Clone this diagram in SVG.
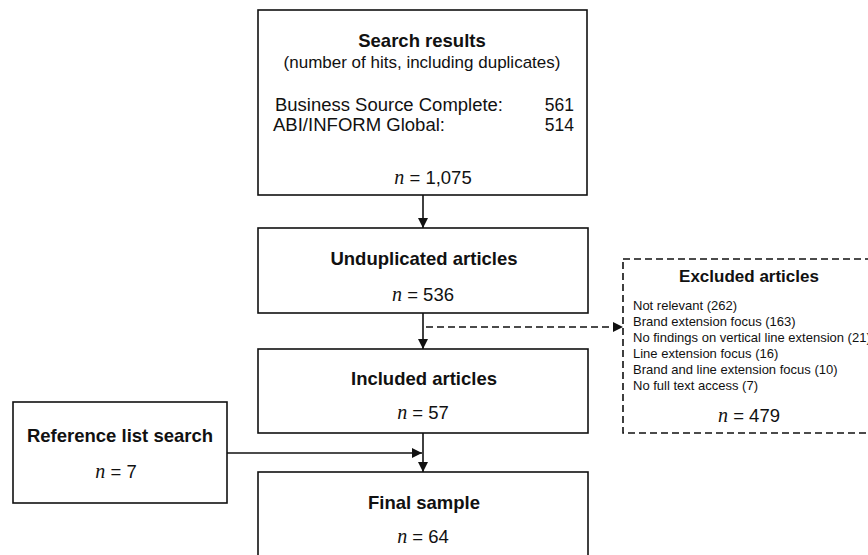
<svg xmlns="http://www.w3.org/2000/svg" width="868" height="555" viewBox="0 0 868 555">
<defs>
<style>
.box{fill:#fff;stroke:#111;stroke-width:1.6}
.dbox{fill:#fff;stroke:#111;stroke-width:1.6;stroke-dasharray:7 4}
.t{font-family:"Liberation Sans",Arial,sans-serif;fill:#111}
.h{font-size:18.5px;font-weight:bold}
.r{font-size:18.5px}
.rs{font-size:17.5px}
.s{font-size:17px}
.hx{font-size:17px;font-weight:bold}
.i{font-size:13px}
.n{font-family:"Liberation Serif","Times New Roman",serif;font-style:italic;font-size:20px}
.ln{fill:none;stroke:#111;stroke-width:1.6}
.dl{fill:none;stroke:#111;stroke-width:1.6;stroke-dasharray:7 4}
</style>
<marker id="ah" viewBox="0 0 10 10" refX="10" refY="5" markerWidth="10" markerHeight="10" markerUnits="userSpaceOnUse" orient="auto">
<path d="M0,0 L10,5 L0,10 Z" fill="#111"/>
</marker>
</defs>
<rect width="868" height="555" fill="#fff"/>

<g id="search">
<rect class="box" x="258" y="10" width="329" height="185"/>
<text class="t h" x="422" y="47" text-anchor="middle">Search results</text>
<text class="t s" x="422" y="68" text-anchor="middle">(number of hits, including duplicates)</text>
<text class="t rs" x="275" y="111" textLength="228" lengthAdjust="spacingAndGlyphs">Business Source Complete:</text>
<text class="t rs" x="574" y="111" text-anchor="end">561</text>
<text class="t rs" x="273" y="130.5" textLength="172" lengthAdjust="spacingAndGlyphs">ABI/INFORM Global:</text>
<text class="t rs" x="574" y="130.5" text-anchor="end">514</text>
<text class="t r" x="433" y="184" text-anchor="middle"><tspan class="n">n</tspan> = 1,075</text>
</g>

<g id="unduplicated">
<rect class="box" x="258" y="228" width="330" height="85"/>
<text class="t h" x="424" y="265" text-anchor="middle">Unduplicated articles</text>
<text class="t r" x="423" y="301" text-anchor="middle"><tspan class="n">n</tspan> = 536</text>
</g>

<g id="included">
<rect class="box" x="258" y="349" width="330" height="84"/>
<text class="t h" x="424" y="385" text-anchor="middle">Included articles</text>
<text class="t r" x="423" y="419" text-anchor="middle"><tspan class="n">n</tspan> = 57</text>
</g>

<g id="final">
<rect class="box" x="258" y="472" width="330" height="90"/>
<text class="t h" x="424" y="509" text-anchor="middle">Final sample</text>
<text class="t r" x="423" y="543" text-anchor="middle"><tspan class="n">n</tspan> = 64</text>
</g>

<g id="reference">
<rect class="box" x="13" y="402" width="214" height="101"/>
<text class="t h" x="120" y="442" text-anchor="middle">Reference list search</text>
<text class="t r" x="116" y="478" text-anchor="middle"><tspan class="n">n</tspan> = 7</text>
</g>

<g id="excluded">
<rect class="dbox" x="623" y="259" width="260" height="174"/>
<text class="t hx" x="749" y="282" text-anchor="middle">Excluded articles</text>
<text class="t i" x="633" y="310">Not relevant (262)</text>
<text class="t i" x="633" y="326">Brand extension focus (163)</text>
<text class="t i" x="633" y="342">No findings on vertical line extension (21)</text>
<text class="t i" x="633" y="358">Line extension focus (16)</text>
<text class="t i" x="633" y="374">Brand and line extension focus (10)</text>
<text class="t i" x="633" y="390">No full text access (7)</text>
<text class="t r" x="749" y="422" text-anchor="middle"><tspan class="n">n</tspan> = 479</text>
</g>

<g id="connectors">
<line class="ln" x1="423" y1="195" x2="423" y2="228" marker-end="url(#ah)"/>
<line class="ln" x1="423" y1="313" x2="423" y2="349" marker-end="url(#ah)"/>
<line class="dl" x1="426" y1="327" x2="623" y2="327" marker-end="url(#ah)"/>
<line class="ln" x1="423" y1="433" x2="423" y2="472" marker-end="url(#ah)"/>
<line class="ln" x1="227" y1="453" x2="422" y2="453" marker-end="url(#ah)"/>
</g>
</svg>
